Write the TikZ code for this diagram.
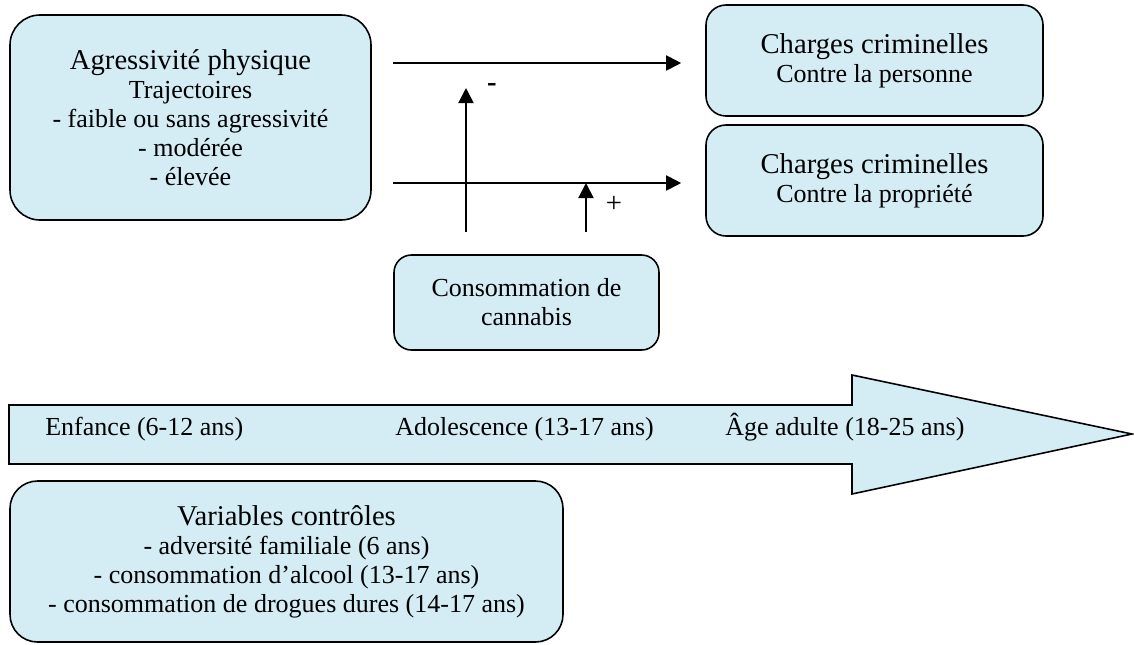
\documentclass[tikz,border=0pt]{standalone}
\usepackage{fontspec}
\setmainfont{Liberation Serif}
\usetikzlibrary{arrows.meta}
\definecolor{paleblue}{RGB}{212,236,243}
\newcommand{\bigline}{\fontsize{16.3}{16.5}\selectfont}
\newcommand{\smallline}{\fontsize{14.8}{16.5}\selectfont}

\begin{document}
\begin{tikzpicture}[scale=0.2]
\tikzstyle{every node}+=[inner sep=0pt]
\tikzstyle{box}=[draw=black, fill=paleblue, line width=0.9pt, align=center, font=\smallline]
\tikzstyle{link}=[black, line width=1.1pt, -{Triangle[length=3mm,width=3mm]}]
\useasboundingbox (0,0) rectangle (113.4,-64.4);
\node [box, minimum width=72.2mm, minimum height=41mm, rounded corners=6mm] (agr) at (19.05,-11.75)
  {{\bigline Agressivité physique}\\Trajectoires\\- faible ou sans agressivité\\- modérée\\- élevée};
\node [box, minimum width=67.4mm, minimum height=22.2mm, rounded corners=4mm] (pers) at (87.45,-6.05)
  {{\bigline Charges criminelles}\\Contre la personne};
\node [box, minimum width=67.4mm, minimum height=22.2mm, rounded corners=4mm] (prop) at (87.45,-18.05)
  {{\bigline Charges criminelles}\\Contre la propriété};
\node [box, minimum width=53mm, minimum height=19mm, rounded corners=3.5mm] (cann) at (52.65,-30.25)
  {Consommation de\\cannabis};
\coordinate (a1) at (39.3,-6.3);
\coordinate (b1) at (39.3,-18.3);
\coordinate (up1) at (46.6,-23.2);
\coordinate (up1end) at (46.6,-8.8);
\coordinate (up2) at (58.6,-23.2);
\draw [link, shorten >=4.8mm] (a1) -- (a1 -| pers.west);
\draw [link, shorten >=4.8mm] (b1) -- (b1 -| prop.west);
\draw [link] (up1) -- (up1end);
\draw [link] (up2) -- (up2 |- b1);
\node [font=\bigline\bfseries] (minus) at (49.2,-8.8) {-};
\node [font=\bigline] (plus) at (61.4,-20.4) {+};
\draw [black, line width=0.9pt, fill=paleblue] (0.9,-40.5) -- (85.2,-40.5) -- (85.2,-37.5) -- (113.2,-43.4)
  -- (85.2,-49.4) -- (85.2,-46.4) -- (0.9,-46.4) -- cycle;
\node [font=\smallline, anchor=base west] (enf) at (4.5,-43.5) {Enfance (6-12 ans)};
\node [font=\smallline, anchor=base west] (ado) at (39.5,-43.5) {Adolescence (13-17 ans)};
\node [font=\smallline, anchor=base west] (adu) at (72.5,-43.5) {Âge adulte (18-25 ans)};
\node [box, minimum width=110.6mm, minimum height=32.2mm, rounded corners=5.5mm] (ctrl) at (28.65,-56.15)
  {{\bigline Variables contrôles}\\- adversité familiale (6 ans)\\- consommation d’alcool (13-17 ans)\\- consommation de drogues dures (14-17 ans)};
\end{tikzpicture}
\end{document}
